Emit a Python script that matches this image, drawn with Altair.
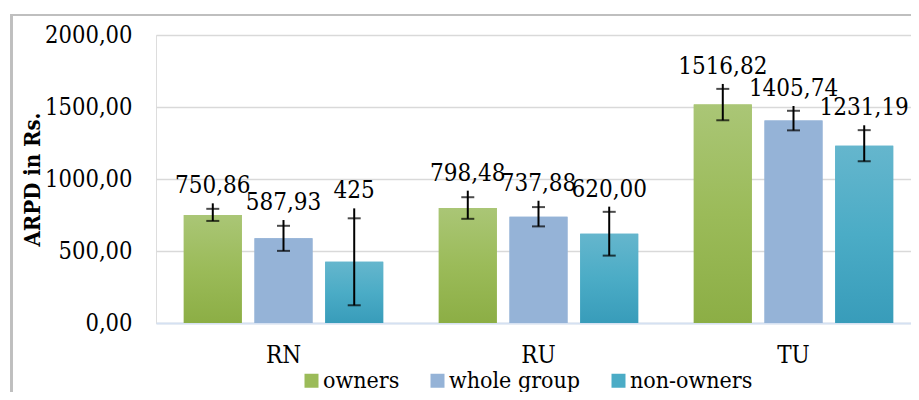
import altair as alt
import pandas as pd

groups = ["RN", "RU", "TU"]
series = ["owners", "whole group", "non-owners"]

# mean values per group (owners, whole group, non-owners)
means = {
    "RN": [750.86, 587.93, 425.0],
    "RU": [798.48, 737.88, 620.00],
    "TU": [1516.82, 1405.74, 1231.19],
}
# error half-widths (cap positions)
errs = {
    "RN": [42, 87, 302],
    "RU": [75, 67, 152],
    "TU": [109, 68, 108],
}
# top end of the whisker line (extends above the upper cap)
whisker_top = {
    "RN": [831, 715, 796],
    "RU": [919, 849, 808],
    "TU": [1660, 1507, 1373],
}
labels = {
    "RN": ["750,86", "587,93", "425"],
    "RU": ["798,48", "737,88", "620,00"],
    "TU": ["1516,82", "1405,74", "1231,19"],
}

rows = []
for g in groups:
    for i, s in enumerate(series):
        m = means[g][i]
        e = errs[g][i]
        rows.append({
            "group": g, "series": s, "mean": m,
            "low": m - e, "cap": m + e, "top": whisker_top[g][i],
            "label": labels[g][i],
        })
df = pd.DataFrame(rows)

FONT = "DejaVu Serif Condensed"
solid = ["#9bbb59", "#95b3d7", "#4bacc6"]
grads = {
    "owners": ["#aac676", "#9bbb59", "#8cae45"],
    "whole group": ["#95b3d7", "#95b3d7", "#95b3d7"],
    "non-owners": ["#65b6cd", "#4bacc6", "#389cba"],
}

x_enc = alt.X("group:N", sort=groups, title=None,
              scale=alt.Scale(paddingInner=0.218, paddingOuter=0.109),
              axis=alt.Axis(labelAngle=0, ticks=False, labelPadding=20,
                            labelFont=FONT, labelFontSize=24, labelColor="black",
                            domainColor="#d5e1f2", domainWidth=2))
xo_enc = alt.XOffset("series:N", sort=series,
                     scale=alt.Scale(paddingInner=0.18, paddingOuter=0))

base = alt.Chart(df).encode(x=x_enc, xOffset=xo_enc)

bars_solid = base.mark_bar().encode(
    y=alt.Y("mean:Q", scale=alt.Scale(domain=[0, 2000], nice=False),
            title="ARPD in Rs.",
            axis=alt.Axis(values=[0, 500, 1000, 1500, 2000],
                          labelExpr="replace(format(datum.value, '.2f'), '.', ',')",
                          domain=False, ticks=False, labelPadding=24,
                          labelFont=FONT, labelFontSize=23.5, labelColor="black",
                          gridColor="#d9d9d9", gridWidth=1.5,
                          titleFont=FONT, titleFontSize=22, titleFontWeight="bold",
                          titleColor="black", titleAngle=270, titleBaseline="middle",
                          titleAlign="center", titleX=-124, titleY=144)),
    color=alt.Color("series:N", sort=series,
                    scale=alt.Scale(domain=series, range=solid),
                    legend=alt.Legend(title=None, orient="none", direction="horizontal",
                                      legendX=144, legendY=334, symbolType="square",
                                      symbolSize=196, symbolStrokeWidth=0,
                                      labelFont=FONT, labelFontSize=23, labelColor="black",
                                      labelOffset=0, columnPadding=26, padding=0)),
)

grad_layers = []
for s in series:
    c = grads[s]
    g = alt.Gradient(gradient="linear", x1=0, x2=0, y1=0, y2=1,
                     stops=[alt.GradientStop(color=c[0], offset=0),
                            alt.GradientStop(color=c[1], offset=0.5),
                            alt.GradientStop(color=c[2], offset=1)])
    grad_layers.append(
        base.mark_bar(fill=g).encode(y="mean:Q").transform_filter(alt.datum.series == s)
    )

whisker = base.mark_rule(color="black", strokeWidth=2).encode(y="low:Q", y2="top:Q")
cap_low = base.mark_tick(color="black", thickness=2, size=13).encode(y="low:Q")
cap_high = base.mark_tick(color="black", thickness=2, size=13).encode(y="cap:Q")
text = base.mark_text(font=FONT, fontSize=24, color="black", baseline="alphabetic",
                      dy=-10).encode(y="top:Q", text="label:N")

frame_left = alt.Chart(df).mark_rule(color="#bfbfbf", strokeWidth=2).encode(
    x=alt.value(-144.5), y=alt.value(-20), y2=alt.value(400))
frame_top = alt.Chart(df).mark_rule(color="#bfbfbf", strokeWidth=2).encode(
    x=alt.value(-145.5), x2=alt.value(800), y=alt.value(-20))

chart = alt.layer(
    bars_solid, *grad_layers, whisker, cap_low, cap_high, text, frame_left, frame_top
).properties(
    width=765, height=288,
    autosize=alt.AutoSizeParams(type="none"),
    padding={"left": 148, "top": 27, "right": -10, "bottom": 69},
).configure_view(stroke=None).configure(background="white")

chart.save("out.html", embed_options={"renderer": "svg", "actions": False})
